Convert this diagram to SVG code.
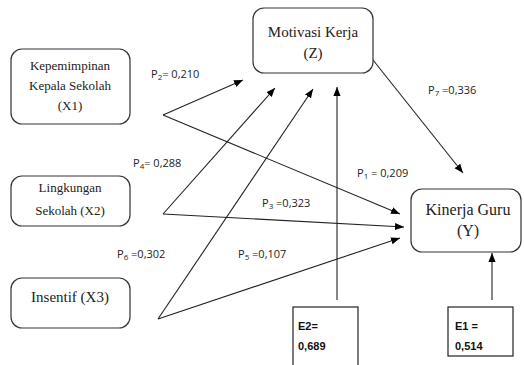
<svg xmlns="http://www.w3.org/2000/svg" width="524" height="365" viewBox="0 0 524 365">
<defs>
<marker id="ah" viewBox="0 0 10 10" refX="10" refY="5" markerWidth="9" markerHeight="9" markerUnits="userSpaceOnUse" orient="auto">
<path d="M0,1 L10,5 L0,9 z" fill="#000"/>
</marker>
<style>
.node{fill:#fff;stroke:#333;stroke-width:1.2}
.box{fill:#fff;stroke:#222;stroke-width:1.2}
.t{font-family:'Liberation Serif','DejaVu Serif',serif;fill:#222;text-anchor:middle}
.lbl{font-family:'Open Sans','Liberation Sans',sans-serif;font-size:11px;fill:#222}
.e{font-family:'Liberation Sans',sans-serif;font-size:11px;font-weight:bold;fill:#111}
.ca{stroke:#222;stroke-width:1.1;fill:none;marker-end:url(#ah)}
</style>
</defs>
<rect width="524" height="365" fill="#fff"/>
<g id="connectors">
<path class="ca" d="M163,115 L243,80"/>
<path class="ca" d="M163,115 L400,214"/>
<path class="ca" d="M163,214 L275,88"/>
<path class="ca" d="M163,214 L404,227"/>
<path class="ca" d="M158,319 L313,89"/>
<path class="ca" d="M158,319 L400,238"/>
<path class="ca" d="M373,60 L463,173"/>
<path class="ca" d="M337,300 L337,87"/>
<path class="ca" d="M492,300 L492,253"/>
</g>
<g id="x1"><rect class="node" x="11" y="49" width="119" height="75" rx="11"/>
<text class="t" font-size="13" x="70" y="70">Kepemimpinan</text>
<text class="t" font-size="13" x="70" y="90">Kepala Sekolah</text>
<text class="t" font-size="13" x="70" y="110">(X1)</text></g>
<g id="x2"><rect class="node" x="11" y="176" width="119" height="50" rx="11"/>
<text class="t" font-size="13" x="70" y="192">Lingkungan</text>
<text class="t" font-size="13" x="70" y="215">Sekolah (X2)</text></g>
<g id="x3"><rect class="node" x="11" y="278" width="119" height="50" rx="11"/>
<text class="t" font-size="15" x="70" y="302">Insentif (X3)</text></g>
<g id="z"><rect class="node" x="253" y="8" width="120" height="65" rx="11"/>
<text class="t" font-size="15" x="313" y="37">Motivasi Kerja</text>
<text class="t" font-size="15" x="313" y="58">(Z)</text></g>
<g id="y"><rect class="node" x="411" y="189" width="110" height="63" rx="11"/>
<text class="t" font-size="16" x="468" y="215">Kinerja Guru</text>
<text class="t" font-size="16" x="468" y="236">(Y)</text></g>
<g id="e2"><rect class="box" x="293" y="307" width="65" height="62"/>
<text class="e" x="298" y="330">E2=</text>
<text class="e" x="298" y="350">0,689</text></g>
<g id="e1"><rect class="box" x="448" y="307" width="65" height="49"/>
<text class="e" x="455" y="330">E1 =</text>
<text class="e" x="455" y="350">0,514</text></g>
<g id="labels">
<text class="lbl" x="151" y="78">P<tspan font-size="8" dy="2">2</tspan><tspan dy="-2">= 0,210</tspan></text>
<text class="lbl" x="133" y="167">P<tspan font-size="8" dy="2">4</tspan><tspan dy="-2">= 0,288</tspan></text>
<text class="lbl" x="428" y="94">P<tspan font-size="8" dy="2">7</tspan><tspan dy="-2"> =0,336</tspan></text>
<text class="lbl" x="357" y="177">P<tspan font-size="8" dy="2">1</tspan><tspan dy="-2"> = 0,209</tspan></text>
<text class="lbl" x="262" y="207">P<tspan font-size="8" dy="2">3</tspan><tspan dy="-2"> =0,323</tspan></text>
<text class="lbl" x="117" y="258">P<tspan font-size="8" dy="2">6</tspan><tspan dy="-2"> =0,302</tspan></text>
<text class="lbl" x="238" y="258">P<tspan font-size="8" dy="2">5</tspan><tspan dy="-2">  =0,107</tspan></text>
</g>
</svg>
